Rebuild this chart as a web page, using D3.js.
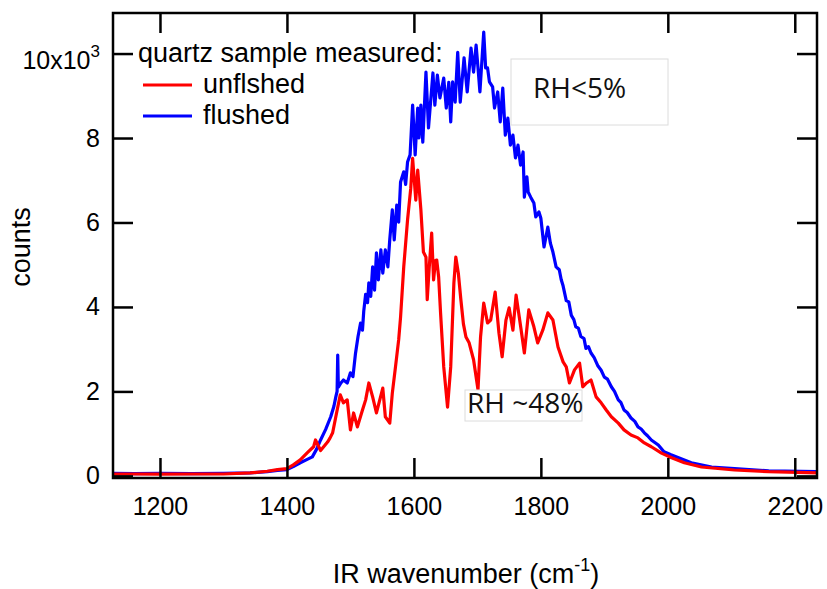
<!DOCTYPE html>
<html lang="en">
<head>
    <meta charset="UTF-8">
    <title>IR spectrum</title>
    <style>
        body { margin: 0; background: #fff; }
        svg { display: block; }
        .tick text { font-family: "Liberation Sans", Arial, sans-serif; font-size: 25px; fill: #000; }
        .tick line { stroke: #000; stroke-width: 2.5; }
        .label { font-family: "Liberation Sans", Arial, sans-serif; font-size: 27px; fill: #000; }
        .note { font-family: "Open Sans", sans-serif; font-size: 28px; fill: #111; }
        .trace { fill: none; stroke-width: 3.2; stroke-linejoin: round; }
    </style>
</head>
<body>
    <div class="chart"></div>
    <script src="https://d3js.org/d3.v7.min.js"></script>
    <script>
    "use strict";

    // flushed sample (blue)
    var flushedWn = [1126, 1160, 1200, 1250, 1300, 1342, 1369, 1385, 1400, 1410, 1421, 1432, 1440, 1447, 1453, 1461, 1469, 1474,
        1477, 1479, 1480, 1481, 1485, 1489, 1495, 1500, 1504, 1508, 1512, 1516, 1519, 1521, 1524, 1527, 1529, 1532, 1535,
        1538, 1541, 1544, 1548, 1551, 1555, 1559, 1562, 1566, 1569, 1573, 1576, 1579, 1584, 1587, 1590, 1594, 1598, 1602,
        1606, 1608, 1611, 1614, 1619, 1623, 1630, 1633, 1637, 1641, 1647, 1651, 1655, 1658, 1661, 1665, 1669, 1673, 1679,
        1684, 1690, 1694, 1698, 1701, 1704, 1710, 1713, 1716, 1719, 1724, 1727, 1732, 1736, 1740, 1744, 1748, 1752, 1756,
        1760, 1764, 1768, 1772, 1774, 1778, 1780, 1784, 1789, 1792, 1797, 1800, 1805, 1811, 1815, 1819, 1824, 1829, 1832,
        1835, 1840, 1844, 1848, 1852, 1855, 1859, 1863, 1868, 1871, 1875, 1879, 1884, 1890, 1895, 1900, 1905, 1911, 1916,
        1922, 1926, 1931, 1936, 1942, 1948, 1953, 1958, 1963, 1968, 1974, 1985, 1994, 2005, 2017, 2037, 2069, 2105, 2159, 2235];
    var flushedCounts = [60, 55, 60, 55, 60, 70, 100, 130, 150, 220, 310, 390, 450, 640, 850, 1100, 1400, 1650,
        1870, 2000, 2860, 2100, 2200, 2270, 2200, 2440, 2350, 2900, 3300, 3620, 3450, 3900, 4300, 4100, 4570, 4250, 4950,
        4400, 5280, 4640, 5350, 4800, 5350, 4950, 5600, 6300, 5590, 6410, 6010, 6960, 7200, 6900, 7430, 7600, 8780, 7600,
        8710, 8000, 8780, 7900, 9560, 8240, 9540, 8780, 9490, 8950, 9420, 8710, 9320, 8380, 9330, 8850, 10030, 8850, 9900,
        9090, 10130, 9560, 10200, 9660, 9090, 10510, 9660, 9660, 9330, 9210, 8710, 9090, 8380, 9180, 8070, 8470, 7830, 8070,
        7530, 7830, 7360, 7670, 6600, 7080, 6720, 6600, 6460, 6130, 6250, 6100, 5420, 5890, 5510, 5300, 4950, 4880, 4650,
        4500, 4150, 4120, 3800, 3700, 3530, 3500, 3300, 3250, 3020, 3060, 2910, 2800, 2600, 2500, 2340, 2290, 2110, 2000,
        1800, 1740, 1560, 1500, 1370, 1290, 1160, 1110, 1020, 950, 850, 730, 570, 500, 430, 310, 210, 170, 120, 100];

    // unflushed sample (red)
    var unflushedWn = [1126, 1160, 1200, 1250, 1300, 1342, 1369, 1385, 1400, 1410, 1421, 1433, 1442, 1445, 1453, 1464, 1468,
        1472, 1477, 1484, 1489, 1495, 1500, 1505, 1511, 1519, 1524, 1529, 1535, 1541, 1551, 1555, 1562, 1566, 1571, 1576,
        1579, 1584, 1590, 1595, 1598, 1603, 1606, 1611, 1615, 1619, 1621, 1624, 1628, 1631, 1634, 1636, 1639, 1642, 1647,
        1653, 1658, 1663, 1666, 1670, 1674, 1678, 1682, 1687, 1694, 1701, 1705, 1710, 1716, 1721, 1728, 1734, 1739, 1745,
        1750, 1756, 1761, 1769, 1774, 1781, 1789, 1795, 1803, 1811, 1819, 1827, 1835, 1840, 1845, 1853, 1861, 1866, 1872,
        1879, 1887, 1895, 1903, 1911, 1922, 1931, 1942, 1953, 1963, 1974, 1990, 2006, 2026, 2053, 2105, 2159, 2235];
    var unflushedCounts = [40, 45, 40, 45, 45, 70, 110, 150, 170, 260, 380, 560, 690, 850, 600, 800, 900,
        1020, 1400, 1920, 1730, 1800, 1090, 1490, 1160, 1560, 1800, 2200, 1870, 1490, 2080, 1400, 1250, 1960, 2580, 3220,
        3760, 4950, 6060, 6800, 7520, 6530, 7240, 6300, 5300, 5180, 4170, 4900, 5750, 4640, 5100, 5110, 4710, 3860, 2580,
        1630, 2580, 4570, 5180, 4800, 4170, 3600, 3290, 3150, 2750, 2040, 3290, 4090, 3620, 3690, 4350, 3380, 2820, 3690,
        3980, 3450, 4280, 3450, 2910, 3930, 3530, 3150, 3450, 3860, 3690, 3050, 2700, 2580, 2200, 2510, 2670, 2110, 2200,
        2270, 1870, 1730, 1560, 1400, 1250, 1090, 970, 900, 780, 690, 540, 430, 310, 210, 140, 100, 70];

    var xTicks = [1200, 1400, 1600, 1800, 2000, 2200];
    var yTicks = [0, 2000, 4000, 6000, 8000, 10000];

    var container = { width: 827, height: 589 };
    var frame = { left: 113, right: 817, top: 13, bottom: 478 };

    var svg = d3.select(".chart").append("svg")
        .attr("width", container.width)
        .attr("height", container.height);

    // scales
    var x = d3.scaleLinear().domain([1126, 2235]).range([frame.left, frame.right]);
    var y = d3.scaleLinear().domain([-50, 10960]).range([frame.bottom, frame.top]);

    var line = d3.line()
        .x(function(d) { return x(d[0]); })
        .y(function(d) { return y(d[1]); });

    svg.append("clipPath").attr("id", "plot-clip")
        .append("rect")
        .attr("x", frame.left).attr("y", frame.top)
        .attr("width", frame.right - frame.left).attr("height", frame.bottom - frame.top);

    var plot = svg.append("g").attr("clip-path", "url(#plot-clip)");

    plot.append("path")
        .attr("class", "trace")
        .attr("stroke", "#0000ff")
        .attr("d", line(d3.zip(flushedWn, flushedCounts)));

    plot.append("path")
        .attr("class", "trace")
        .attr("stroke", "#ff0000")
        .attr("d", line(d3.zip(unflushedWn, unflushedCounts)));

    // axes, ticks pointing inward
    svg.append("g")
        .attr("transform", "translate(0," + frame.bottom + ")")
        .call(d3.axisBottom(x).tickValues(xTicks).tickSizeInner(-20).tickSizeOuter(0).tickPadding(19).tickFormat(d3.format("d")))
        .call(function(g) { g.select(".domain").remove(); });

    svg.append("g")
        .attr("transform", "translate(0," + frame.top + ")")
        .call(d3.axisTop(x).tickValues(xTicks).tickSizeInner(-20).tickSizeOuter(0).tickFormat(""))
        .call(function(g) { g.select(".domain").remove(); });

    svg.append("g")
        .attr("transform", "translate(" + frame.left + ",0)")
        .call(d3.axisLeft(y).tickValues(yTicks).tickSizeInner(-20).tickSizeOuter(0).tickPadding(13)
            .tickFormat(function(d) { return d === 10000 ? "" : d / 1000; }))
        .call(function(g) { g.select(".domain").remove(); });

    svg.append("g")
        .attr("transform", "translate(" + frame.right + ",0)")
        .call(d3.axisRight(y).tickValues(yTicks).tickSizeInner(-20).tickSizeOuter(0).tickFormat(""))
        .call(function(g) { g.select(".domain").remove(); });

    // 10x10^3 label on the top tick
    var topLabel = svg.append("text")
        .attr("class", "label")
        .attr("x", frame.left - 13)
        .attr("y", y(10000) + 15)
        .attr("text-anchor", "end")
        .style("font-size", "25px");
    topLabel.append("tspan").text("10x10");
    topLabel.append("tspan").attr("dy", -12).style("font-size", "17px").text("3");

    // frame
    svg.append("rect")
        .attr("x", frame.left).attr("y", frame.top)
        .attr("width", frame.right - frame.left).attr("height", frame.bottom - frame.top)
        .attr("fill", "none").attr("stroke", "#000").attr("stroke-width", 2.5);

    // axis titles
    svg.append("text")
        .attr("class", "label")
        .attr("transform", "translate(30,247) rotate(-90)")
        .attr("text-anchor", "middle")
        .text("counts");

    var xTitle = svg.append("text")
        .attr("class", "label")
        .attr("x", 466).attr("y", 583)
        .attr("text-anchor", "middle");
    xTitle.append("tspan").text("IR wavenumber (cm");
    xTitle.append("tspan").attr("dy", -12).style("font-size", "18px").text("-1");
    xTitle.append("tspan").attr("dy", 12).text(")");

    // legend
    var legend = svg.append("g");
    legend.append("text").attr("class", "label").attr("x", 138).attr("y", 62).text("quartz sample measured:");
    var legendItems = [["unflshed", "#ff0000"], ["flushed", "#0000ff"]];
    legendItems.forEach(function(item, i) {
        var cy = 85 + i * 31;
        legend.append("line")
            .attr("x1", 143).attr("x2", 192).attr("y1", cy).attr("y2", cy)
            .attr("stroke", item[1]).attr("stroke-width", 3.2);
        legend.append("text").attr("class", "label").attr("x", 203).attr("y", cy + 8).text(item[0]);
    });

    // annotation boxes
    function note(bx, by, bw, bh, tx, ty, txt) {
        svg.append("rect")
            .attr("x", bx).attr("y", by).attr("width", bw).attr("height", bh)
            .attr("fill", "#fff").attr("stroke", "#dcdcdc").attr("stroke-width", 1);
        svg.append("text").attr("class", "note").attr("x", tx).attr("y", ty).text(txt);
    }
    note(511, 59, 157, 66, 533, 98, "RH<5%");
    note(465, 390, 117, 31, 467, 413, "RH ~48%");
    </script>
</body>
</html>
